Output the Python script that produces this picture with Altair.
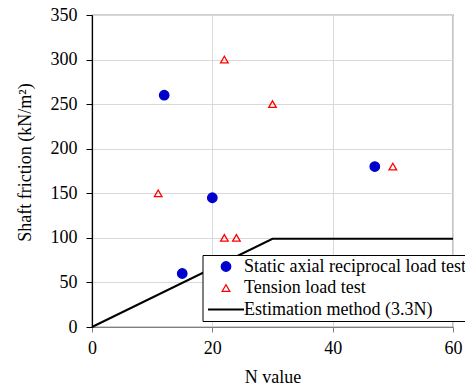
import altair as alt
import pandas as pd

# Data
static_n = [12, 15, 20, 47]
static_f = [260, 60, 145, 180]
tension_n = [11, 22, 22, 24, 30, 50]
tension_f = [150, 300, 100, 100, 250, 180]
est_n = [0, 30, 60]
est_f = [0, 99, 99]

series_names = ["Static axial reciprocal load test", "Tension load test", "Estimation method (3.3N)"]

pts = pd.DataFrame({
    "N": static_n + tension_n,
    "F": static_f + tension_f,
    "series": [series_names[0]] * len(static_n) + [series_names[1]] * len(tension_n),
})
est = pd.DataFrame({"N": est_n, "F": est_f})

FONT = "'Times New Roman', 'Liberation Serif', 'DejaVu Serif', serif"
FS = 18

xs = alt.Scale(domain=[0, 60], nice=False, zero=True)
ys = alt.Scale(domain=[0, 350], nice=False)

x_axis = alt.Axis(values=[0, 20, 40, 60], title="N value", domainColor="#808080",
                  tickColor="#808080", tickSize=5, labelPadding=7, titlePadding=11)
y_axis = alt.Axis(values=[0, 50, 100, 150, 200, 250, 300, 350], title="Shaft friction (kN/m²)",
                  domainColor="black", tickColor="black", tickSize=6, labelPadding=9,
                  titlePadding=16, titleY=147)

line = alt.Chart(est).mark_line(color="black", strokeWidth=2).encode(
    x=alt.X("N:Q", scale=xs, axis=x_axis),
    y=alt.Y("F:Q", scale=ys, axis=y_axis),
)

legend = alt.Legend(
    title=None, orient="none", legendX=110.5, legendY=240,
    fillColor="white", strokeColor="black", padding=2.5,
    labelFont=FONT, labelFontSize=FS, labelColor="black", labelLimit=0,
    symbolOffset=12, labelOffset=9, rowPadding=3.5, symbolStrokeWidth=1.3,
    cornerRadius=0,
)

dom = series_names
points = alt.Chart(pts).mark_point(strokeWidth=1.3, opacity=1).encode(
    x=alt.X("N:Q", scale=xs),
    y=alt.Y("F:Q", scale=ys),
    shape=alt.Shape("series:N", scale=alt.Scale(domain=dom, range=["circle", "triangle-up", "M-3.6,-0.2H3.6V0.2H-3.6Z"]), legend=legend),
    fill=alt.Fill("series:N", scale=alt.Scale(domain=dom, range=["#0000cd", "transparent", "black"]), legend=legend),
    stroke=alt.Stroke("series:N", scale=alt.Scale(domain=dom, range=["#0000cd", "red", "transparent"]), legend=legend),
    size=alt.Size("series:N", scale=alt.Scale(type="ordinal", domain=dom, range=[90, 58, 100]), legend=legend),
)

chart = alt.layer(line, points).properties(
    width=361, height=312,
    padding={"left": 92, "top": 15, "right": 12, "bottom": 61},
    autosize=alt.AutoSizeParams(type="none"),
).configure_view(
    stroke="#404040", strokeWidth=1.2,
).configure_axis(
    labelFont=FONT, titleFont=FONT, labelFontSize=FS, titleFontSize=FS,
    labelColor="black", titleColor="black", titleFontWeight="normal",
    gridColor="#d9d9d9", gridWidth=1, domainWidth=1.2, labelFlush=False,
)

chart.save("out.html", embed_options={"renderer": "svg", "actions": False})
